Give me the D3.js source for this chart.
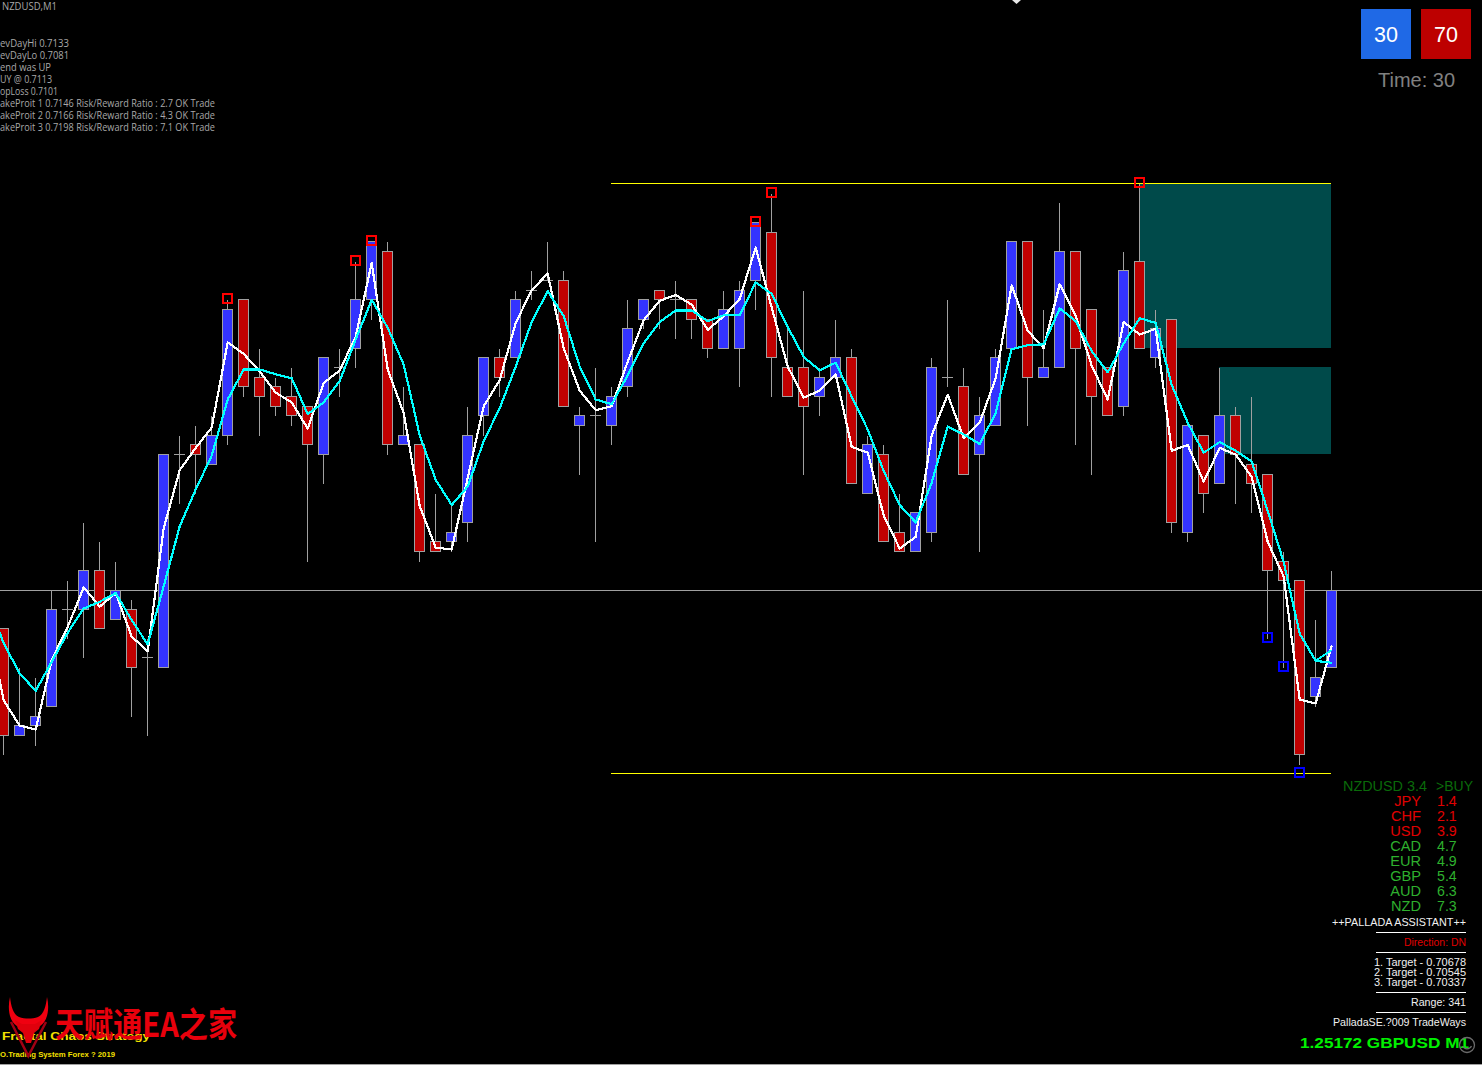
<!DOCTYPE html>
<html>
<head>
<meta charset="utf-8">
<script src="https://cdnjs.cloudflare.com/ajax/libs/d3/7.8.5/d3.min.js"></script>
<style>
html,body{margin:0;padding:0;background:#000;overflow:hidden}
svg{display:block}
text{font-family:"Liberation Sans",Arial,sans-serif}
</style>
</head>
<body>
<svg id="c" width="1482" height="1065"></svg>
<script>
// All prices are in points above the 0.71130 bid
const opens  = [-4,-15,-14,-12,-2,-2,2,-3,-2,-7,-8,14,15,13,16,30,22,21,20,19,14,23,25,30,35,15,15,5,5,7,18,24,24,31,32,32,17,18,17,21,28,31,30,30,28,25,25,32,37,23,23,20,22,24,10,14,6,4,6,22,21,14,17,25,36,22,23,35,29,23,19,34,24,28,6,16,11,18,13,12,3,1,-11,-8];
const highs  = [-4,-8,-9,0,1,7,5,3,-1,-5,14,16,17,18,30,30,25,22,23,19,24,25,34,36,36,21,15,10,9,19,24,25,31,33,36,33,19,23,21,30,30,31,32,30,28,31,32,38,41,27,31,23,28,25,16,15,10,8,24,30,23,20,25,36,36,29,40,35,29,23,35,42,29,28,17,16,23,19,20,12,4,1,-3,2];
const lows   = [-17,-15,-16,-12,-5,-7,-4,-3,-13,-15,-8,9,10,13,15,20,16,18,17,3,11,20,23,28,14,15,3,4,4,5,16,20,24,30,32,19,12,5,15,20,27,27,26,26,24,25,21,29,20,20,12,18,22,11,10,5,4,4,5,21,12,4,17,25,17,22,23,15,12,18,18,25,23,6,5,8,11,9,8,-5,-8,-18,-12,-8];
const closes = [-15,-14,-13,-2,-2,2,-4,0,-8,-7,14,14,14,16,29,21,20,19,18,15,24,23,30,36,15,16,4,4,6,16,24,22,30,31,32,19,18,18,20,27,30,30,30,28,25,29,31,38,24,20,19,22,24,11,15,5,4,8,23,22,12,18,24,36,22,23,35,25,20,18,33,25,27,7,17,10,18,14,11,2,1,-17,-9,0];

// Moving averages; each starts with one bar before the first visible candle
const fastMA = [-3.1,-11.4,-14.0,-14.4,-7.2,-3.8,0.3,-1.7,-0.3,-4.8,-6.3,6.4,12.4,14.7,16.8,25.6,24.4,22.6,20.4,19.4,16.7,21.4,22.7,26.2,33.8,22.8,18.3,8.7,4.4,4.2,11.6,19.0,21.7,27.6,31.0,32.7,25.0,20.6,18.6,19.0,23.6,27.9,29.9,30.5,29.5,26.9,28.3,30.1,35.4,29.2,23.1,19.9,20.6,22.3,14.8,14.2,7.7,4.3,5.5,16.0,20.2,15.7,17.3,21.9,31.5,26.8,25.0,31.6,28.3,23.2,19.7,27.7,26.4,27.0,14.4,15.0,11.2,14.7,14.0,11.7,5.0,1.4,-11.3,-11.7,-5.7];
const slowMA = [-1.0,-5.5,-8.6,-10.4,-7.4,-4.4,-1.9,-1.2,-0.3,-3.1,-5.6,0.4,6.6,10.4,13.9,19.7,22.8,22.8,22.3,21.9,18.2,19.4,21.6,25.9,30.0,27.1,23.3,16.0,11.4,8.8,10.7,15.4,18.8,23.1,27.7,30.9,28.3,23.1,19.7,19.2,22.2,25.5,27.7,28.9,28.9,27.8,28.4,28.4,31.8,30.6,27.2,24.1,22.7,23.5,20.0,16.6,12.3,8.8,7.0,11.1,16.9,16.1,15.1,18.3,24.9,25.3,25.4,29.1,27.8,24.7,22.5,25.5,28.1,27.6,21.2,17.3,14.2,15.3,14.4,13.3,8.2,2.9,-4.5,-7.3,-7.5];
const slowTail = [-7.3,-6.2];

// Fractal markers: bar index and level
const upFractalBars   = [14,22,23,47,48,71];
const upFractalLevels = [30.2,34.1,36.2,38.15,41.15,42.2];
const dnFractalBars   = [79,80,81];
const dnFractalLevels = [-4.87,-7.87,-18.83];

const rangeHigh = 42, rangeLow = -18.9, rangeStartBar = 38;
const zoneBars  = [[71,83],[76,83]];
const zoneTops  = [42,23];
const zoneBots  = [25,14];
const bidLevel  = 0;

const infoLines = ["evDayHi 0.7133","evDayLo 0.7081","end was UP","UY @ 0.7113","opLoss 0.7101",
  "akeProit 1 0.7146 Risk/Reward Ratio : 2.7 OK Trade",
  "akeProit 2 0.7166 Risk/Reward Ratio : 4.3 OK Trade",
  "akeProit 3 0.7198 Risk/Reward Ratio : 7.1 OK Trade"];
const currencies = ["JPY","CHF","USD","CAD","EUR","GBP","AUD","NZD"];
const strengths  = [1.4,2.1,3.9,4.7,4.9,5.4,6.3,7.3];
const targets    = ["1. Target - 0.70678","2. Target - 0.70545","3. Target - 0.70337"];

const svg = d3.select("#c");
const x = d3.scaleLinear().domain([0,83]).range([3.5,1331.5]);
const y = d3.scaleLinear().domain([0,10]).range([590.17,493.37]);
const py = v => Math.floor(y(v)) + 0.5;
const GRAY = "#a0a0a0";

// zones
svg.append("g").selectAll("rect").data(zoneBars).join("rect")
  .attr("x",d=>Math.floor(x(d[0]))).attr("width",d=>Math.floor(x(d[1]))-Math.floor(x(d[0])))
  .attr("y",(d,i)=>py(zoneTops[i])-.5).attr("height",(d,i)=>py(zoneBots[i])-py(zoneTops[i]))
  .attr("fill","#004a4a");

// level lines
svg.append("line").attr("x1",0).attr("x2",1482).attr("y1",py(bidLevel)).attr("y2",py(bidLevel))
  .attr("stroke",GRAY).attr("stroke-width",1);
svg.append("g").selectAll("line").data([rangeHigh,rangeLow]).join("line")
  .attr("x1",Math.floor(x(rangeStartBar))).attr("x2",Math.floor(x(83)))
  .attr("y1",d=>py(d)).attr("y2",d=>py(d)).attr("stroke","#ffff00").attr("stroke-width",1);

// candles
const bars = d3.range(opens.length);
const g = svg.append("g").attr("shape-rendering","crispEdges");
g.selectAll("line.w").data(bars).join("line").attr("class","w")
  .attr("x1",i=>Math.floor(x(i))+.5).attr("x2",i=>Math.floor(x(i))+.5)
  .attr("y1",i=>py(highs[i])).attr("y2",i=>py(lows[i])+.5)
  .attr("stroke",GRAY);
g.selectAll("rect.b").data(bars.filter(i=>opens[i]!==closes[i])).join("rect").attr("class","b")
  .attr("x",i=>Math.floor(x(i))-4.5).attr("width",10)
  .attr("y",i=>py(Math.max(opens[i],closes[i])))
  .attr("height",i=>py(Math.min(opens[i],closes[i]))-py(Math.max(opens[i],closes[i])))
  .attr("fill",i=>closes[i]>opens[i]?"#3333ff":"#c00000")
  .attr("stroke",GRAY);
g.selectAll("line.d").data(bars.filter(i=>opens[i]===closes[i])).join("line").attr("class","d")
  .attr("x1",i=>Math.floor(x(i))-5).attr("x2",i=>Math.floor(x(i))+6)
  .attr("y1",i=>py(opens[i])).attr("y2",i=>py(opens[i]))
  .attr("stroke",GRAY);

// moving averages
const lineGen = d3.line().x((d,i)=>x(i-1)+.2).y(d=>y(d));
svg.append("path").attr("d",lineGen(fastMA)).attr("fill","none").attr("stroke","#ffffff")
  .attr("stroke-width",2.2).attr("stroke-linejoin","round").attr("shape-rendering","crispEdges");
svg.append("path").attr("d",lineGen(slowMA)).attr("fill","none").attr("stroke","#00ffff")
  .attr("stroke-width",2.2).attr("stroke-linejoin","round").attr("shape-rendering","crispEdges");
svg.append("path").attr("d",d3.line().x((d,i)=>x(82+i)).y(d=>y(d))(slowTail)).attr("fill","none")
  .attr("stroke","#00ffff").attr("stroke-width",2.2).attr("shape-rendering","crispEdges");

// fractal markers
function markers(barsIdx,levels,col){
  svg.append("g").attr("shape-rendering","crispEdges").selectAll("rect").data(barsIdx).join("rect")
    .attr("x",d=>Math.floor(x(d))-4).attr("y",(d,i)=>Math.round(y(levels[i]))-4)
    .attr("width",8.5).attr("height",8.5).attr("fill","none").attr("stroke",col).attr("stroke-width",2);
}
markers(upFractalBars,upFractalLevels,"#ff0000");
markers(dnFractalBars,dnFractalLevels,"#0000ff");

// helper for text
function T(s,px,py_,size,fill,opts={}){
  const t = svg.append("text").text(s).attr("x",px).attr("y",py_)
    .attr("font-size",size).attr("fill",fill).attr("dominant-baseline","central");
  if(opts.anchor) t.attr("text-anchor",opts.anchor);
  if(opts.weight) t.attr("font-weight",opts.weight);
  if(opts.family) t.style("font-family",opts.family);
  if(opts.len) t.attr("textLength",opts.len).attr("lengthAdjust","spacingAndGlyphs");
  return t;
}

// top-left info
const INFO = '"Open Sans",sans-serif';
T("NZDUSD,M1",2,5.5,10,"#a8a8a8",{len:55,family:INFO});
const infoLens = [69,69,51,52,58,215,215,215];
infoLines.forEach((s,i)=>T(s,0,42.9+12*i,10,"#a8a8a8",{len:infoLens[i],family:INFO}));

// top-right buttons
svg.append("rect").attr("x",1361).attr("y",9).attr("width",50).attr("height",50).attr("fill","#1f69e6");
svg.append("rect").attr("x",1421).attr("y",9).attr("width",50).attr("height",50).attr("fill","#bd0000");
T("30",1386,34.5,21.5,"#fff",{anchor:"middle"});
T("70",1446,34.5,21.5,"#fff",{anchor:"middle"});
T("Time: 30",1416.5,80,20,"#808080",{anchor:"middle"});
svg.append("path").attr("d","M1012,0 L1021,0 L1016.5,4 Z").attr("fill","#e8e8e8");

// currency table
const GREEN="#2eb02e", RED="#e00000", DG="#0a6a0a";
T("NZDUSD 3.4",1343,786,14.2,DG,{len:84});
T(">BUY",1436,786,14.2,DG,{len:37});
currencies.forEach((c,i)=>{
  const col = strengths[i]<4 ? RED : GREEN;
  T(c,1421,801+15*i,14.6,col,{anchor:"end"});
  T(d3.format(".1f")(strengths[i]),1437,801+15*i,14.2,col);
});

// assistant panel
const W="#f0f0f0";
T("++PALLADA ASSISTANT++",1466,922.3,10.6,W,{anchor:"end",len:134});
[932.5,952.5,992.5,1012.5].forEach(v=>svg.append("line").attr("x1",1376).attr("x2",1466).attr("y1",v).attr("y2",v).attr("stroke","#fff"));
T("Direction: DN",1466,942.3,10.6,"#e00000",{anchor:"end",len:62});
targets.forEach((s,i)=>T(s,1466,962.3+10*i,10.6,W,{anchor:"end",len:92}));
T("Range: 341",1466,1002.3,10.6,W,{anchor:"end",len:55});
T("PalladaSE.?009 TradeWays",1466,1022.3,10.6,W,{anchor:"end",len:133});
T("1.25172 GBPUSD M1",1300,1042.3,15,"#00f000",{weight:"bold",len:169});

// smiley
svg.append("circle").attr("cx",1467).attr("cy",1045).attr("r",7.5).attr("fill","none").attr("stroke","#6a6a6a").attr("stroke-width",1.3);
svg.append("path").attr("d","M1462.5,1046 A5,5 0 0 0 1471.5,1046").attr("fill","none").attr("stroke","#6a6a6a").attr("stroke-width",1.2);

// bottom-left strategy text
T("Fractal Chaos Strategy",2,1036,11.5,"#f5e000",{weight:"bold",len:148});
T("O.Trading System Forex  ? 2019",0,1054,8,"#f5e000",{weight:"bold",len:115});

// watermark logo
const logo = svg.append("g");
logo.append("path").attr("fill","none").attr("stroke","#a00014").attr("stroke-width",2.5)
  .attr("d","M11,1022 L28.3,1056 L46,1022");
logo.append("path").attr("fill","#f00010")
  .attr("d","M10,997 C7,1010 10,1022 17,1026 L40,1026 C47,1022 50,1010 47,997 C46,1006 44,1014 38,1017 C32,1019 25,1019 19,1017 C13,1014 11,1006 10,997 Z");
logo.append("path").attr("fill","#e0000c")
  .attr("d","M15,1020 L22,1024 L35,1024 L42,1020 L39,1029 L34,1033 L31,1043 L26,1043 L23,1033 L18,1029 Z");
T("天赋通EA之家",55,1022,34,"#e8000c",{weight:"bold",family:'"Noto Sans CJK SC"',len:182});

// bottom edge
svg.append("rect").attr("x",0).attr("y",1064).attr("width",1482).attr("height",1).attr("fill","#a0a0a0");
</script>
</body>
</html>
